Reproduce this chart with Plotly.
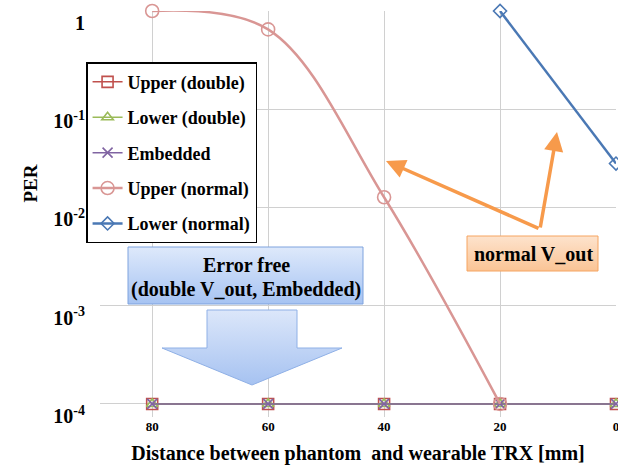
import plotly.graph_objects as go

# ---------------- data ----------------
distance = [80, 60, 40, 20, 0]
upper_double = [1e-4, 1e-4, 1e-4, 1e-4, 1e-4]
lower_double = [1e-4, 1e-4, 1e-4, 1e-4, 1e-4]
embedded = [1e-4, 1e-4, 1e-4, 1e-4, 1e-4]
upper_normal_x = [80, 60, 40, 20]
upper_normal = [1.0, 0.65, 0.0127, 1e-4]
lower_normal_x = [20, 0]
lower_normal = [1.0, 0.028]

y_tickvals = [1, 1e-1, 1e-2, 1e-3, 1e-4]
y_ticktext = ["1", "10<sup>-1</sup>", "10<sup>-2</sup>", "10<sup>-3</sup>", "10<sup>-4</sup>"]
x_tickvals = [80, 60, 40, 20, 0]

FONT = "Liberation Serif"

fig = go.Figure()


def add_series(name, x, y, color, symbol, msize, lw, shape="linear"):
    fig.add_trace(go.Scatter(
        x=x, y=y, name=name, mode="lines+markers",
        line=dict(color=color, width=lw, shape=shape, smoothing=1.0),
        marker=dict(symbol=symbol, size=msize, color=color,
                    line=dict(color=color, width=1.6)),
        cliponaxis=False, legendgroup=name,
    ))


add_series("Upper (double)", distance, upper_double, "#C0504D", "square-open", 11, 1.5)
add_series("Lower (double)", distance, lower_double, "#9BBB59", "triangle-up-open", 10, 1.5)
add_series("Embedded", distance, embedded, "#8064A2", "x-thin-open", 10, 1.5)
add_series("Upper (normal)", upper_normal_x, upper_normal, "#D99694", "circle-open", 13, 2.5, "spline")
add_series("Lower (normal)", lower_normal_x, lower_normal, "#4A78B4", "diamond-open", 10, 2.5)

# ------------- decorations on a pixel-like overlay axis -------------
def poly(xs, ys, c0, c1, border, top, bottom):
    fig.add_trace(go.Scatter(
        x=xs, y=ys, xaxis="x2", yaxis="y2", mode="lines", fill="toself",
        line=dict(color=border, width=1),
        fillgradient=dict(type="vertical", start=top, stop=bottom,
                          colorscale=[[0, c0], [1, c1]]),
        showlegend=False, hoverinfo="skip",
    ))

# blue arrow
poly([207, 297, 297, 342, 252, 162, 207, 207],
     [310, 310, 348, 348, 385, 348, 348, 310],
     "#DCE7FA", "#A6C2F1", "#8FB0E6", 310, 385)
# blue box
poly([128, 363, 363, 128, 128], [247, 247, 304, 304, 247],
     "#DEE9FB", "#A6C3F2", "#7FA3DE", 247, 304)
# orange box
poly([467, 598, 598, 467, 467], [236, 236, 271, 271, 236],
     "#FDE3CD", "#FAC495", "#F6A461", 236, 271)

annots = [
    dict(x=246, y=265, text="<b>Error free</b>"),
    dict(x=246, y=289, text="<b>(double V_out, Embedded)</b>"),
    dict(x=533, y=254, text="<b>normal V_out</b>"),
]
for a in annots:
    fig.add_annotation(xref="x2", yref="y2", showarrow=False,
                       font=dict(family=FONT, size=20, color="black"), **a)

for tx, ty in [(386, 161), (557, 132)]:
    fig.add_annotation(xref="x2", yref="y2", axref="x2", ayref="y2",
                       x=tx, y=ty, ax=540, ay=229, text="", showarrow=True,
                       arrowhead=2, arrowsize=1.1, arrowwidth=3.5,
                       arrowcolor="#F79A4B")

# y-axis title
fig.add_annotation(xref="paper", yref="paper", x=-0.159, y=0.576, text="<b>PER</b>",
                   textangle=-90, showarrow=False,
                   font=dict(family=FONT, size=19, color="black"))

fig.update_layout(
    width=618, height=468,
    margin=dict(l=100, r=2, t=11, b=51, autoexpand=False),
    paper_bgcolor="white", plot_bgcolor="white",
    font=dict(family=FONT, color="black"),
    showlegend=True,
    legend=dict(x=-0.027, y=0.874, xanchor="left", yanchor="top",
                bgcolor="white", bordercolor="black", borderwidth=1.5,
                font=dict(family=FONT, size=18, color="black", weight="bold"),
                tracegroupgap=9, itemwidth=30),
    xaxis=dict(range=[89, 0], tickvals=x_tickvals, showgrid=True, automargin=False,
               gridcolor="#D0D0D0", gridwidth=1, zeroline=False, showline=False,
               ticklabeloverflow="allow",
               tickfont=dict(family=FONT, size=13, weight="bold"),
               title=dict(text="Distance between phantom &nbsp;and wearable TRX [mm]",
                          font=dict(family=FONT, size=20, weight="bold"), standoff=12)),
    yaxis=dict(type="log", range=[-4.133, 0], tickvals=y_tickvals, ticktext=y_ticktext,
               showgrid=True, gridcolor="#D0D0D0", gridwidth=1, zeroline=False,
               showline=False, ticklabelstandoff=14, ticklabelshift=12,
               ticklabeloverflow="allow", automargin=False,
               tickfont=dict(family=FONT, size=20, weight="bold")),
    xaxis2=dict(overlaying="x", range=[100, 616], visible=False, fixedrange=True),
    yaxis2=dict(overlaying="y", range=[417, 11], visible=False, fixedrange=True),
)

fig.write_html("out.html",
               config={"displayModeBar": False},
               post_script="document.body.style.margin='0px';"
                           "document.body.style.overflow='hidden';")
